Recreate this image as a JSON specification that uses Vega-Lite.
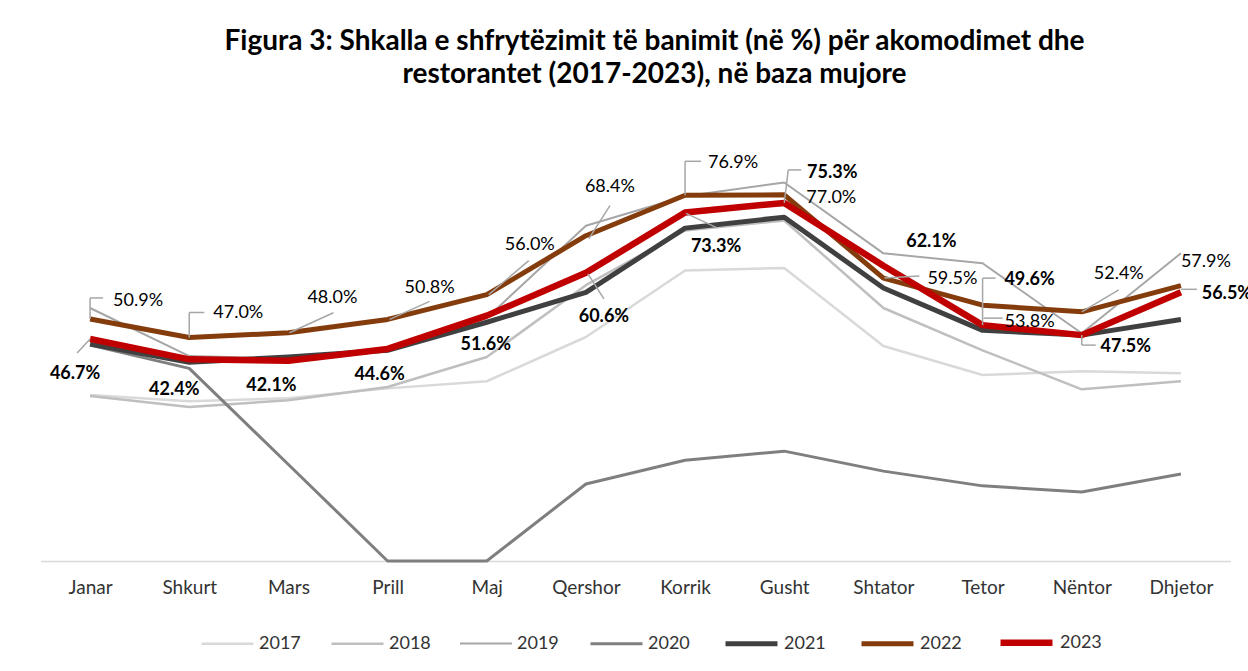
{
  "$schema": "https://vega.github.io/schema/vega-lite/v6.json",
  "width": 1190,
  "height": 428,
  "autosize": {"type": "none"},
  "padding": {"left": 40.5, "top": 133, "right": 17.5, "bottom": 110},
  "background": "white",
  "title": {
    "text": ["Figura 3: Shkalla e shfrytëzimit të  banimit (në %) për akomodimet dhe", "restorantet (2017-2023), në baza mujore"],
    "font": "Lato", "fontSize": 28, "fontWeight": "bold", "color": "#000000",
    "lineHeight": 33, "anchor": "middle", "frame": "group", "offset": 44, "dx": 19
  },
  "data": {"values": [
    {"year": "2017", "month": "Janar", "value": 34.9}, {"year": "2017", "month": "Shkurt", "value": 33.6}, {"year": "2017", "month": "Mars", "value": 34.2}, {"year": "2017", "month": "Prill", "value": 36.3}, {"year": "2017", "month": "Maj", "value": 37.8}, {"year": "2017", "month": "Qershor", "value": 47.1}, {"year": "2017", "month": "Korrik", "value": 61.1}, {"year": "2017", "month": "Gusht", "value": 61.6}, {"year": "2017", "month": "Shtator", "value": 45.2}, {"year": "2017", "month": "Tetor", "value": 39.1}, {"year": "2017", "month": "Nëntor", "value": 39.9}, {"year": "2017", "month": "Dhjetor", "value": 39.5},
    {"year": "2018", "month": "Janar", "value": 34.7}, {"year": "2018", "month": "Shkurt", "value": 32.4}, {"year": "2018", "month": "Mars", "value": 33.8}, {"year": "2018", "month": "Prill", "value": 36.6}, {"year": "2018", "month": "Maj", "value": 42.9}, {"year": "2018", "month": "Qershor", "value": 58.0}, {"year": "2018", "month": "Korrik", "value": 69.5}, {"year": "2018", "month": "Gusht", "value": 71.6}, {"year": "2018", "month": "Shtator", "value": 53.2}, {"year": "2018", "month": "Tetor", "value": 44.3}, {"year": "2018", "month": "Nëntor", "value": 36.1}, {"year": "2018", "month": "Dhjetor", "value": 37.8},
    {"year": "2019", "month": "Janar", "value": 53.2}, {"year": "2019", "month": "Shkurt", "value": 43.1}, {"year": "2019", "month": "Mars", "value": 42.6}, {"year": "2019", "month": "Prill", "value": 44.3}, {"year": "2019", "month": "Maj", "value": 51.1}, {"year": "2019", "month": "Qershor", "value": 70.5}, {"year": "2019", "month": "Korrik", "value": 76.7}, {"year": "2019", "month": "Gusht", "value": 79.6}, {"year": "2019", "month": "Shtator", "value": 64.7}, {"year": "2019", "month": "Tetor", "value": 62.6}, {"year": "2019", "month": "Nëntor", "value": 47.9}, {"year": "2019", "month": "Dhjetor", "value": 64.7},
    {"year": "2020", "month": "Janar", "value": 45.4}, {"year": "2020", "month": "Shkurt", "value": 40.5}, {"year": "2020", "month": "Mars", "value": 20.3}, {"year": "2020", "month": "Prill", "value": 0}, {"year": "2020", "month": "Maj", "value": 0}, {"year": "2020", "month": "Qershor", "value": 16.2}, {"year": "2020", "month": "Korrik", "value": 21.2}, {"year": "2020", "month": "Gusht", "value": 23.1}, {"year": "2020", "month": "Shtator", "value": 18.9}, {"year": "2020", "month": "Tetor", "value": 15.8}, {"year": "2020", "month": "Nëntor", "value": 14.5}, {"year": "2020", "month": "Dhjetor", "value": 18.3},
    {"year": "2021", "month": "Janar", "value": 45.6}, {"year": "2021", "month": "Shkurt", "value": 41.8}, {"year": "2021", "month": "Mars", "value": 42.9}, {"year": "2021", "month": "Prill", "value": 44.3}, {"year": "2021", "month": "Maj", "value": 50.2}, {"year": "2021", "month": "Qershor", "value": 56.5}, {"year": "2021", "month": "Korrik", "value": 70.0}, {"year": "2021", "month": "Gusht", "value": 72.3}, {"year": "2021", "month": "Shtator", "value": 57.4}, {"year": "2021", "month": "Tetor", "value": 48.5}, {"year": "2021", "month": "Nëntor", "value": 47.5}, {"year": "2021", "month": "Dhjetor", "value": 50.8},
    {"year": "2022", "month": "Janar", "value": 50.9}, {"year": "2022", "month": "Shkurt", "value": 47.0}, {"year": "2022", "month": "Mars", "value": 48.0}, {"year": "2022", "month": "Prill", "value": 50.8}, {"year": "2022", "month": "Maj", "value": 56.0}, {"year": "2022", "month": "Qershor", "value": 68.4}, {"year": "2022", "month": "Korrik", "value": 76.9}, {"year": "2022", "month": "Gusht", "value": 77.0}, {"year": "2022", "month": "Shtator", "value": 59.5}, {"year": "2022", "month": "Tetor", "value": 53.8}, {"year": "2022", "month": "Nëntor", "value": 52.4}, {"year": "2022", "month": "Dhjetor", "value": 57.9},
    {"year": "2023", "month": "Janar", "value": 46.7}, {"year": "2023", "month": "Shkurt", "value": 42.4}, {"year": "2023", "month": "Mars", "value": 42.1}, {"year": "2023", "month": "Prill", "value": 44.6}, {"year": "2023", "month": "Maj", "value": 51.6}, {"year": "2023", "month": "Qershor", "value": 60.6}, {"year": "2023", "month": "Korrik", "value": 73.3}, {"year": "2023", "month": "Gusht", "value": 75.3}, {"year": "2023", "month": "Shtator", "value": 62.1}, {"year": "2023", "month": "Tetor", "value": 49.6}, {"year": "2023", "month": "Nëntor", "value": 47.5}, {"year": "2023", "month": "Dhjetor", "value": 56.5}
  ]},
  "transform": [{"calculate": "format(datum.value, '.1f') + '%'", "as": "label"}],
  "encoding": {
    "x": {"field": "month", "type": "ordinal",
      "sort": ["Janar", "Shkurt", "Mars", "Prill", "Maj", "Qershor", "Korrik", "Gusht", "Shtator", "Tetor", "Nëntor", "Dhjetor"],
      "scale": {"type": "point", "padding": 0.5},
      "axis": {"title": null, "domainColor": "#d9d9d9", "domainWidth": 1.5, "ticks": false, "labelFont": "Lato", "labelFontSize": 19, "labelColor": "#333333", "labelPadding": 17, "labelAngle": 0, "grid": false}},
    "y": {"field": "value", "type": "quantitative", "scale": {"domain": [0, 90]}, "axis": null}
  },
  "layer": [
    {"mark": {"type": "line", "strokeJoin": "round"},
     "encoding": {
       "color": {"field": "year", "type": "ordinal",
         "scale": {"type": "ordinal", "domain": ["2017", "2018", "2019", "2020", "2021", "2022", "2023"], "range": ["#d9d9d9", "#bfbfbf", "#a6a6a6", "#7f7f7f", "#404040", "#843c0c", "#c00000"]},
         "legend": {"orient": "none", "legendX": 159.5, "legendY": 480, "direction": "horizontal", "title": null, "symbolType": "stroke", "symbolSize": 2700, "labelFont": "Lato", "labelFontSize": 18, "labelColor": "#333333", "columnPadding": 25, "labelOffset": 4}},
       "strokeWidth": {"field": "year", "type": "ordinal",
         "scale": {"type": "ordinal", "domain": ["2017", "2018", "2019", "2020", "2021", "2022", "2023"], "range": [2.5, 2.5, 2, 3, 5, 5, 6.5]},
         "legend": {"orient": "none", "legendX": 159.5, "legendY": 480, "direction": "horizontal", "title": null, "symbolType": "stroke", "symbolSize": 2700, "labelFont": "Lato", "labelFontSize": 18, "labelColor": "#333333", "columnPadding": 25, "labelOffset": 4}}
     }},
    {"transform": [{"filter": "datum.year=='2022'&&datum.month=='Janar'"}], "mark": {"type": "rule", "xOffset": 0, "yOffset": 0, "x2Offset": 0, "y2Offset": -21}, "encoding": {"x2": {"field": "month"}, "y2": {"field": "value"}}},
    {"transform": [{"filter": "datum.year=='2022'&&datum.month=='Janar'"}], "mark": {"type": "rule", "xOffset": 0, "yOffset": -21, "x2Offset": 13, "y2Offset": -21}, "encoding": {"x2": {"field": "month"}, "y2": {"field": "value"}}},
    {"transform": [{"filter": "datum.year=='2022'&&datum.month=='Shkurt'"}], "mark": {"type": "rule", "xOffset": 0, "yOffset": 0, "x2Offset": 0, "y2Offset": -25}, "encoding": {"x2": {"field": "month"}, "y2": {"field": "value"}}},
    {"transform": [{"filter": "datum.year=='2022'&&datum.month=='Shkurt'"}], "mark": {"type": "rule", "xOffset": 0, "yOffset": -25, "x2Offset": 15, "y2Offset": -25}, "encoding": {"x2": {"field": "month"}, "y2": {"field": "value"}}},
    {"transform": [{"filter": "datum.year=='2022'&&datum.month=='Mars'"}], "mark": {"type": "rule", "xOffset": 1, "yOffset": 0, "x2Offset": 45, "y2Offset": -20}, "encoding": {"x2": {"field": "month"}, "y2": {"field": "value"}}},
    {"transform": [{"filter": "datum.year=='2022'&&datum.month=='Prill'"}], "mark": {"type": "rule", "xOffset": 2, "yOffset": 0, "x2Offset": 42, "y2Offset": -18}, "encoding": {"x2": {"field": "month"}, "y2": {"field": "value"}}},
    {"transform": [{"filter": "datum.year=='2022'&&datum.month=='Maj'"}], "mark": {"type": "rule", "xOffset": 2, "yOffset": 0, "x2Offset": 42, "y2Offset": -34}, "encoding": {"x2": {"field": "month"}, "y2": {"field": "value"}}},
    {"transform": [{"filter": "datum.year=='2022'&&datum.month=='Qershor'"}], "mark": {"type": "rule", "xOffset": 3, "yOffset": 3, "x2Offset": 24, "y2Offset": -30}, "encoding": {"x2": {"field": "month"}, "y2": {"field": "value"}}},
    {"transform": [{"filter": "datum.year=='2022'&&datum.month=='Korrik'"}], "mark": {"type": "rule", "xOffset": 0, "yOffset": 0, "x2Offset": 0, "y2Offset": -34}, "encoding": {"x2": {"field": "month"}, "y2": {"field": "value"}}},
    {"transform": [{"filter": "datum.year=='2022'&&datum.month=='Korrik'"}], "mark": {"type": "rule", "xOffset": 0, "yOffset": -34, "x2Offset": 16, "y2Offset": -34}, "encoding": {"x2": {"field": "month"}, "y2": {"field": "value"}}},
    {"transform": [{"filter": "datum.year=='2022'&&datum.month=='Shtator'"}], "mark": {"type": "rule", "xOffset": 1, "yOffset": 0, "x2Offset": 36, "y2Offset": -2}, "encoding": {"x2": {"field": "month"}, "y2": {"field": "value"}}},
    {"transform": [{"filter": "datum.year=='2022'&&datum.month=='Tetor'"}], "mark": {"type": "rule", "xOffset": 1, "yOffset": 13, "x2Offset": 20, "y2Offset": 13}, "encoding": {"x2": {"field": "month"}, "y2": {"field": "value"}}},
    {"transform": [{"filter": "datum.year=='2022'&&datum.month=='Nëntor'"}], "mark": {"type": "rule", "xOffset": 0, "yOffset": 0, "x2Offset": 37, "y2Offset": -22}, "encoding": {"x2": {"field": "month"}, "y2": {"field": "value"}}},
    {"transform": [{"filter": "datum.year=='2023'&&datum.month=='Janar'"}], "mark": {"type": "rule", "xOffset": 0, "yOffset": 0, "x2Offset": -13, "y2Offset": 14}, "encoding": {"x2": {"field": "month"}, "y2": {"field": "value"}}},
    {"transform": [{"filter": "datum.year=='2023'&&datum.month=='Qershor'"}], "mark": {"type": "rule", "xOffset": 2, "yOffset": 1, "x2Offset": 18, "y2Offset": 26}, "encoding": {"x2": {"field": "month"}, "y2": {"field": "value"}}},
    {"transform": [{"filter": "datum.year=='2023'&&datum.month=='Korrik'"}], "mark": {"type": "rule", "xOffset": 1, "yOffset": 1, "x2Offset": 31, "y2Offset": 15}, "encoding": {"x2": {"field": "month"}, "y2": {"field": "value"}}},
    {"transform": [{"filter": "datum.year=='2023'&&datum.month=='Gusht'"}], "mark": {"type": "rule", "xOffset": 0, "yOffset": 0, "x2Offset": 4, "y2Offset": -33}, "encoding": {"x2": {"field": "month"}, "y2": {"field": "value"}}},
    {"transform": [{"filter": "datum.year=='2023'&&datum.month=='Gusht'"}], "mark": {"type": "rule", "xOffset": 4, "yOffset": -33, "x2Offset": 17, "y2Offset": -33}, "encoding": {"x2": {"field": "month"}, "y2": {"field": "value"}}},
    {"transform": [{"filter": "datum.year=='2023'&&datum.month=='Tetor'"}], "mark": {"type": "rule", "xOffset": 0, "yOffset": 0, "x2Offset": 0, "y2Offset": -47}, "encoding": {"x2": {"field": "month"}, "y2": {"field": "value"}}},
    {"transform": [{"filter": "datum.year=='2023'&&datum.month=='Tetor'"}], "mark": {"type": "rule", "xOffset": 0, "yOffset": -47, "x2Offset": 13, "y2Offset": -47}, "encoding": {"x2": {"field": "month"}, "y2": {"field": "value"}}},
    {"transform": [{"filter": "datum.year=='2023'&&datum.month=='Nëntor'"}], "mark": {"type": "rule", "xOffset": 0, "yOffset": 0, "x2Offset": 0, "y2Offset": 10}, "encoding": {"x2": {"field": "month"}, "y2": {"field": "value"}}},
    {"transform": [{"filter": "datum.year=='2023'&&datum.month=='Nëntor'"}], "mark": {"type": "rule", "xOffset": 0, "yOffset": 10, "x2Offset": 14, "y2Offset": 10}, "encoding": {"x2": {"field": "month"}, "y2": {"field": "value"}}},
    {"transform": [{"filter": "datum.year=='2023'&&datum.month=='Dhjetor'"}], "mark": {"type": "rule", "xOffset": 0, "yOffset": -3, "x2Offset": 16, "y2Offset": -3}, "encoding": {"x2": {"field": "month"}, "y2": {"field": "value"}}},
    {"transform": [{"filter": "datum.year=='2022'&&datum.month=='Janar'"}], "mark": {"type": "text", "style": "l22", "dx": 48, "dy": -18}, "encoding": {"text": {"field": "label"}}},
    {"transform": [{"filter": "datum.year=='2022'&&datum.month=='Shkurt'"}], "mark": {"type": "text", "style": "l22", "dx": 49, "dy": -24}, "encoding": {"text": {"field": "label"}}},
    {"transform": [{"filter": "datum.year=='2022'&&datum.month=='Mars'"}], "mark": {"type": "text", "style": "l22", "dx": 44, "dy": -35}, "encoding": {"text": {"field": "label"}}},
    {"transform": [{"filter": "datum.year=='2022'&&datum.month=='Prill'"}], "mark": {"type": "text", "style": "l22", "dx": 42, "dy": -31}, "encoding": {"text": {"field": "label"}}},
    {"transform": [{"filter": "datum.year=='2022'&&datum.month=='Maj'"}], "mark": {"type": "text", "style": "l22", "dx": 43, "dy": -50}, "encoding": {"text": {"field": "label"}}},
    {"transform": [{"filter": "datum.year=='2022'&&datum.month=='Qershor'"}], "mark": {"type": "text", "style": "l22", "dx": 24, "dy": -49}, "encoding": {"text": {"field": "label"}}},
    {"transform": [{"filter": "datum.year=='2022'&&datum.month=='Korrik'"}], "mark": {"type": "text", "style": "l22", "dx": 48, "dy": -32}, "encoding": {"text": {"field": "label"}}},
    {"transform": [{"filter": "datum.year=='2022'&&datum.month=='Gusht'"}], "mark": {"type": "text", "style": "l22", "dx": 47, "dy": 3}, "encoding": {"text": {"field": "label"}}},
    {"transform": [{"filter": "datum.year=='2022'&&datum.month=='Shtator'"}], "mark": {"type": "text", "style": "l22", "dx": 69, "dy": 1}, "encoding": {"text": {"field": "label"}}},
    {"transform": [{"filter": "datum.year=='2022'&&datum.month=='Tetor'"}], "mark": {"type": "text", "style": "l22", "dx": 47, "dy": 17}, "encoding": {"text": {"field": "label"}}},
    {"transform": [{"filter": "datum.year=='2022'&&datum.month=='Nëntor'"}], "mark": {"type": "text", "style": "l22", "dx": 37, "dy": -38}, "encoding": {"text": {"field": "label"}}},
    {"transform": [{"filter": "datum.year=='2022'&&datum.month=='Dhjetor'"}], "mark": {"type": "text", "style": "l22", "dx": 25, "dy": -24}, "encoding": {"text": {"field": "label"}}},
    {"transform": [{"filter": "datum.year=='2023'&&datum.month=='Janar'"}], "mark": {"type": "text", "style": "l23", "dx": -15, "dy": 35}, "encoding": {"text": {"field": "label"}}},
    {"transform": [{"filter": "datum.year=='2023'&&datum.month=='Shkurt'"}], "mark": {"type": "text", "style": "l23", "dx": -15, "dy": 31}, "encoding": {"text": {"field": "label"}}},
    {"transform": [{"filter": "datum.year=='2023'&&datum.month=='Mars'"}], "mark": {"type": "text", "style": "l23", "dx": -17, "dy": 25}, "encoding": {"text": {"field": "label"}}},
    {"transform": [{"filter": "datum.year=='2023'&&datum.month=='Prill'"}], "mark": {"type": "text", "style": "l23", "dx": -8, "dy": 26}, "encoding": {"text": {"field": "label"}}},
    {"transform": [{"filter": "datum.year=='2023'&&datum.month=='Maj'"}], "mark": {"type": "text", "style": "l23", "dx": -1, "dy": 29}, "encoding": {"text": {"field": "label"}}},
    {"transform": [{"filter": "datum.year=='2023'&&datum.month=='Qershor'"}], "mark": {"type": "text", "style": "l23", "dx": 18, "dy": 44}, "encoding": {"text": {"field": "label"}}},
    {"transform": [{"filter": "datum.year=='2023'&&datum.month=='Korrik'"}], "mark": {"type": "text", "style": "l23", "dx": 31, "dy": 35}, "encoding": {"text": {"field": "label"}}},
    {"transform": [{"filter": "datum.year=='2023'&&datum.month=='Gusht'"}], "mark": {"type": "text", "style": "l23", "dx": 48, "dy": -30}, "encoding": {"text": {"field": "label"}}},
    {"transform": [{"filter": "datum.year=='2023'&&datum.month=='Shtator'"}], "mark": {"type": "text", "style": "l23", "dx": 48, "dy": -24}, "encoding": {"text": {"field": "label"}}},
    {"transform": [{"filter": "datum.year=='2023'&&datum.month=='Tetor'"}], "mark": {"type": "text", "style": "l23", "dx": 47, "dy": -45}, "encoding": {"text": {"field": "label"}}},
    {"transform": [{"filter": "datum.year=='2023'&&datum.month=='Nëntor'"}], "mark": {"type": "text", "style": "l23", "dx": 44, "dy": 12}, "encoding": {"text": {"field": "label"}}},
    {"transform": [{"filter": "datum.year=='2023'&&datum.month=='Dhjetor'"}], "mark": {"type": "text", "style": "l23", "dx": 46, "dy": 2}, "encoding": {"text": {"field": "label"}}}
  ],
  "config": {
    "view": {"stroke": null},
    "rule": {"color": "#a6a6a6", "stroke": "#a6a6a6", "strokeWidth": 1.5},
    "style": {
      "l22": {"font": "Lato", "fontSize": 18, "fill": "#595959", "align": "center", "baseline": "middle"},
      "l23": {"font": "Lato", "fontSize": 18, "fontWeight": "bold", "fill": "#404040", "align": "center", "baseline": "middle"}
    }
  }
}
